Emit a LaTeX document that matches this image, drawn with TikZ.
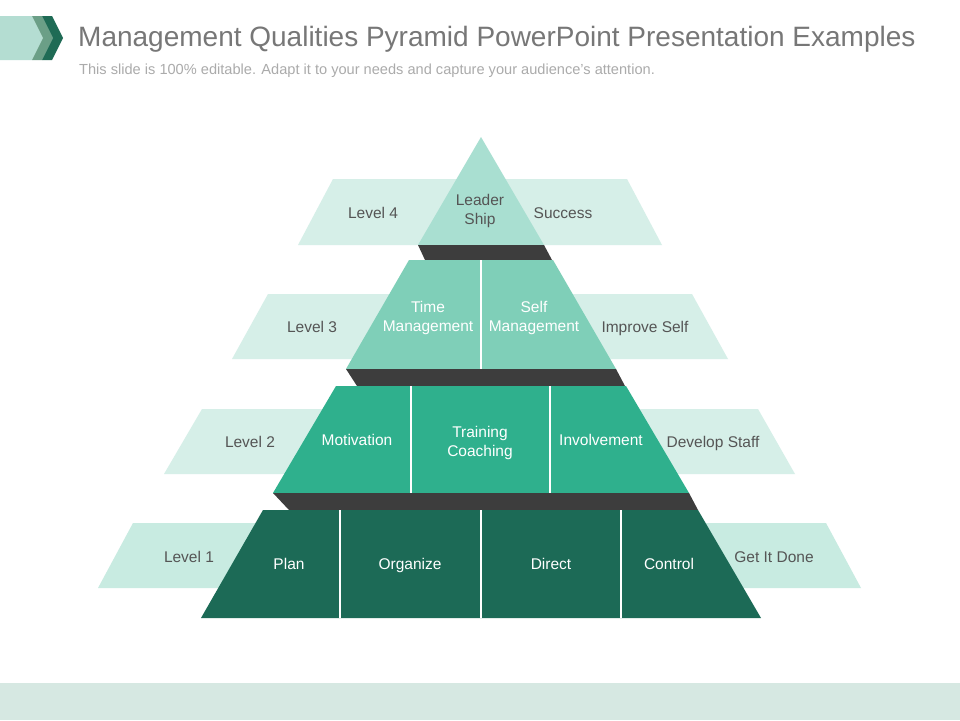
\documentclass[tikz,border=0pt]{standalone}
\usepackage{fontspec}
\setmainfont{Liberation Sans}
\definecolor{bandL}{HTML}{D6EFE8}
\definecolor{bandLone}{HTML}{C8EBE1}
\definecolor{pyrA}{HTML}{A9DFD1}
\definecolor{pyrB}{HTML}{7FCFB8}
\definecolor{pyrC}{HTML}{2FB08D}
\definecolor{pyrD}{HTML}{1C6A56}
\definecolor{shadow}{HTML}{3D3D3D}
\definecolor{txtgray}{HTML}{555555}
\definecolor{titlegray}{HTML}{777777}
\definecolor{subgray}{HTML}{ABABAB}
\definecolor{chevL}{HTML}{B4DDD2}
\definecolor{chevM}{HTML}{6B9F87}
\definecolor{chevD}{HTML}{1F6B55}
\definecolor{footbar}{HTML}{D6E8E2}
\tikzset{
  lvltext/.style={text=txtgray,font=\fontsize{15.5}{19}\selectfont,align=center,inner sep=0pt,anchor=base},
  pyrtext/.style={text=white,font=\fontsize{15.5}{19}\selectfont,align=center,inner sep=0pt,anchor=base},
  twoline/.style={anchor=center},
  divider/.style={draw=white,line width=1.6pt}
}
\begin{document}
\begin{tikzpicture}[x=1pt,y=-1pt]
\useasboundingbox (0,0) rectangle (960,720);
\fill[white] (0,0) rectangle (960,720);
% header chevron
\fill[chevL] (0,16) -- (32,16) -- (43,38) -- (32,60) -- (0,60) -- cycle;
\fill[chevM] (32,16) -- (42,16) -- (53,38) -- (42,60) -- (32,60) -- (43,38) -- cycle;
\fill[chevD] (42,16) -- (52,16) -- (63,38) -- (52,60) -- (42,60) -- (53,38) -- cycle;
\node[anchor=base west,text=titlegray,font=\fontsize{28}{32}\selectfont,inner sep=0pt] (title) at (78,46) {Management Qualities Pyramid PowerPoint Presentation Examples};
\node[anchor=base west,text=subgray,font=\fontsize{14.6}{16}\selectfont,inner sep=0pt] (subtitle) at (79,74) {This slide is 100\% editable. Adapt it to your needs and capture your audience's attention.};
% footer bar
\fill[footbar] (0,683) rectangle (960,720);
% light level bands
\fill[bandL] (333,179) -- (627,179) -- (662,245) -- (298,245) -- cycle;
\fill[bandL] (268,294) -- (692,294) -- (728,359) -- (232,359) -- cycle;
\fill[bandL] (202,409) -- (758,409) -- (795,474) -- (164,474) -- cycle;
\fill[bandLone] (133,523) -- (826,523) -- (861,588) -- (98,588) -- cycle;
% pyramid
\fill[pyrA] (481,137) -- (544,245) -- (418,245) -- cycle;
\fill[shadow] (418,245) -- (544,245) -- (552,260) -- (425,260) -- cycle;
\fill[pyrB] (409,260) -- (553,260) -- (616,369) -- (346,369) -- cycle;
\fill[shadow] (346,369) -- (616,369) -- (625,386) -- (357,386) -- cycle;
\fill[pyrC] (336,386) -- (626,386) -- (689,493) -- (273,493) -- cycle;
\fill[shadow] (273,493) -- (689,493) -- (698,510) -- (289,510) -- cycle;
\fill[pyrD] (263,510) -- (698,510) -- (761,618) -- (201,618) -- cycle;
% dividers
\draw[divider] (481,260) -- (481,369);
\draw[divider] (411,386) -- (411,493);
\draw[divider] (550,386) -- (550,493);
\draw[divider] (340,510) -- (340,618);
\draw[divider] (481,510) -- (481,618);
\draw[divider] (621,510) -- (621,618);
% level 4
\node[lvltext] (l4) at (373,218.5) {Level 4};
\node[lvltext,twoline] (leader) at (480,210.5) {Leader\\Ship};
\node[lvltext] (success) at (563,218.5) {Success};
% level 3
\node[lvltext] (l3) at (312,332.5) {Level 3};
\node[pyrtext,twoline] (time) at (428,317.5) {Time\\Management};
\node[pyrtext,twoline] (self) at (534,317.5) {Self\\Management};
\node[lvltext] (improve) at (645,332.5) {Improve Self};
% level 2
\node[lvltext] (l2) at (250,447.5) {Level 2};
\node[pyrtext] (motiv) at (357,445.5) {Motivation};
\node[pyrtext,twoline] (train) at (480,442.5) {Training\\Coaching};
\node[pyrtext] (invol) at (601,445.5) {Involvement};
\node[lvltext] (develop) at (713,447.5) {Develop Staff};
% level 1
\node[lvltext] (l1) at (189,562.5) {Level 1};
\node[pyrtext] (plan) at (289,569.5) {Plan};
\node[pyrtext] (org) at (410,569.5) {Organize};
\node[pyrtext] (direct) at (551,569.5) {Direct};
\node[pyrtext] (control) at (669,569.5) {Control};
\node[lvltext] (done) at (774,562.5) {Get It Done};
\end{tikzpicture}
\end{document}
